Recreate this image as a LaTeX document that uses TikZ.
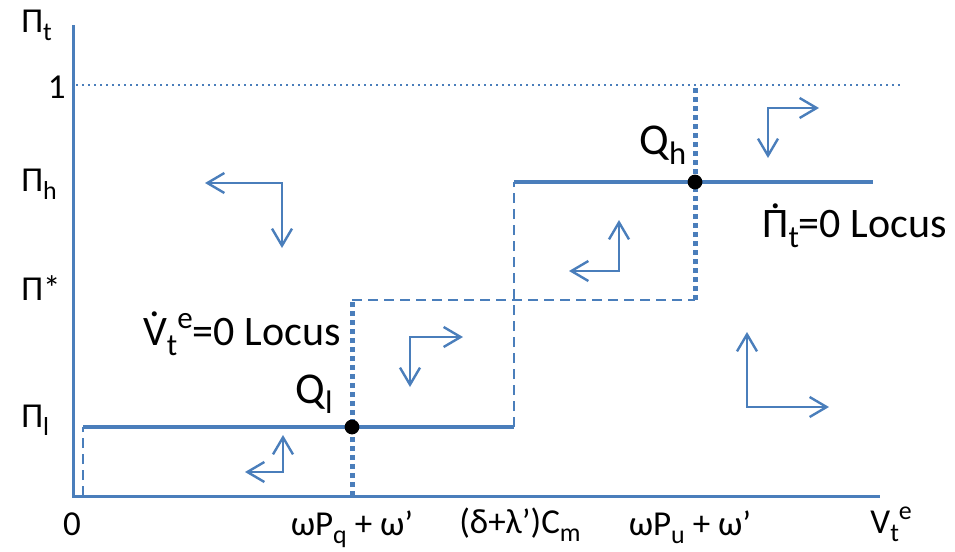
\documentclass[tikz,border=0pt]{standalone}
\usepackage{fontspec}
\setmainfont{Carlito}
\usetikzlibrary{arrows.meta}
\definecolor{locblue}{RGB}{74,126,187}
\newcommand{\dotacc}[1]{\ooalign{#1\cr\hidewidth\raisebox{.68em}{.}\hidewidth\cr}}
\newcommand{\lsub}[1]{\raisebox{-.24em}{\scalebox{.74}{#1}}}
\newcommand{\lsup}[1]{\raisebox{.4em}{\scalebox{.74}{#1}}}

\begin{document}
\begin{tikzpicture}[x=0.5pt,y=-0.5pt,
  every node/.style={font=\fontsize{17.5}{21}\selectfont,inner sep=0pt},
  bigtxt/.style={font=\fontsize{21}{25}\selectfont},
  axis/.style={locblue,line width=1.5pt},
  locus/.style={locblue,line width=1.8pt},
  jump/.style={locblue,line width=1.4pt,dash pattern=on 5pt off 3pt},
  vlocus/.style={locblue,line width=2.5pt,dash pattern=on 2.5pt off 2pt},
  flow/.style={locblue,line width=1.2pt,
    {Straight Barb[length=8.5pt,width=10pt]}-{Straight Barb[length=8.5pt,width=10pt]}}]
   \useasboundingbox (0,0) rectangle (955,552);
   % axes and the level 1
   \draw[axis] (73,25) -- (73,496) -- (880,496);
   \draw[locblue,line width=1pt,dash pattern=on 1pt off 2pt] (76,85) -- (900,85);
   % Pi-dot locus
   \draw[locus] (83,427) -- (514,427);
   \draw[locus] (514,182) -- (873,182);
   \draw[jump] (83,496) -- (83,427);
   \draw[jump] (514,427) -- (514,182);
   % V-dot locus
   \draw[vlocus] (352,496) -- (352,300);
   \draw[jump] (352,300) -- (695,300);
   \draw[vlocus] (695,300) -- (695,88);
   % equilibria
   \fill (352,427) circle(3.7pt);
   \fill (695,182) circle(3.7pt);
   % motion
   \foreach \hx/\cx/\cy/\vy in {205/282/183/248, 245/283/472/435,
      463/410/337/387, 569/619/271/220, 819/768/108/158, 829/747/407/332} {
    \draw[flow] (\hx,\cy) -| (\cx,\vy);
   }
   % labels
   \node[anchor=base west] (pit) at (21,32) {Π\lsub{t}};
   \node[anchor=base east] (one) at (66,98) {1};
   \node[anchor=base west] (pih) at (21,191) {Π\lsub{h}};
   \node[anchor=base west] (pistar) at (21,300) {Π*};
   \node[anchor=base west] (pil) at (21,427) {Π\lsub{l}};
   \node[anchor=base] (zero) at (72,535) {0};
   \node[anchor=base] (wpq) at (352,535) {ωP\lsub{q} + ω’};
   \node[anchor=base] (cm) at (520,533) {(δ+λ’)C\lsub{m}};
   \node[anchor=base] (wpu) at (690,535) {ωP\lsub{u} + ω’};
   \node[anchor=base west] (vte) at (870,533) {V\lsub{t}\lsup{e}};
   \node[anchor=base west,font=\fontsize{22}{26}\selectfont] (ql) at (295,403) {Q\lsub{l}};
   \node[anchor=base west,font=\fontsize{22}{26}\selectfont] (qh) at (639,154) {Q\lsub{h}};
   \node[anchor=base west,bigtxt] (pidot) at (762,237) {\dotacc{Π}\lsub{t}=0 Locus};
   \node[anchor=base east,bigtxt] (vdot) at (341,345) {\dotacc{V}\lsub{t}\lsup{e}=0 Locus};
  \end{tikzpicture}
\end{document}
